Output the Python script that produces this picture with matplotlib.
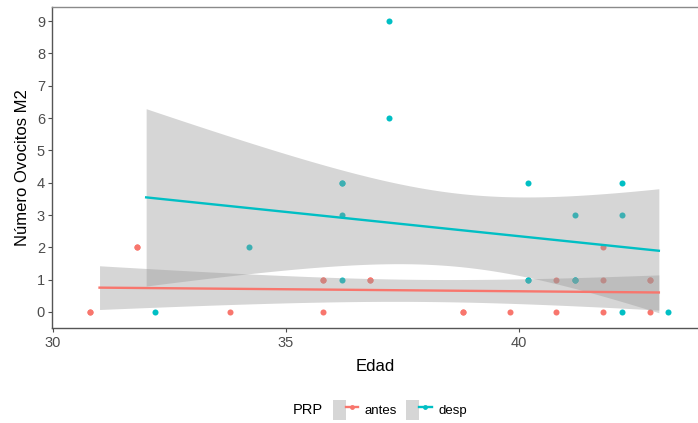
from math import gamma, pi, sqrt

import numpy as np
import matplotlib
matplotlib.use("Agg")
import matplotlib.pyplot as plt
from matplotlib.lines import Line2D
from matplotlib.patches import Patch
from matplotlib.legend_handler import HandlerTuple

plt.rcParams["font.family"] = ["Liberation Sans", "DejaVu Sans"]

# Número de ovocitos M2 por edad, antes y después del PRP
antes_edad = [31, 31, 32, 32, 34, 36, 36, 36, 37, 37, 39, 39, 40, 41, 41,
              42, 42, 42, 43, 43, 43]
antes_ovocitos = [0, 0, 2, 2, 0, 0, 1, 1, 1, 1, 0, 0, 0, 0, 1,
                  0, 1, 2, 0, 1, 1]
desp_edad = [32, 34, 36, 36, 36, 36, 37, 37, 40, 40, 40, 41, 41, 41, 41,
             42, 42, 42, 43]
desp_ovocitos = [0, 2, 4, 4, 3, 1, 9, 6, 4, 1, 1, 3, 1, 1, 1,
                 4, 3, 0, 0]

grupos = ["antes", "desp"]
colores = ["#F8766D", "#00BFC4"]
desplazamiento = [-0.2, 0.2]   # position dodge
x_ticks = [30, 35, 40]
y_ticks = list(range(10))


def t975(df):
    """Two-sided 95% quantile of Student's t."""
    g = np.linspace(0, 8, 80001)
    c = gamma((df + 1) / 2) / (sqrt(df * pi) * gamma(df / 2))
    pdf = c * (1 + g ** 2 / df) ** (-(df + 1) / 2)
    cdf = 0.5 + np.concatenate([[0], np.cumsum((pdf[1:] + pdf[:-1]) / 2 * np.diff(g))])
    return float(np.interp(0.975, cdf, g))


def ajuste_lineal(x, y, npts=100):
    x = np.asarray(x, float)
    y = np.asarray(y, float)
    n = len(x)
    b, a = np.polyfit(x, y, 1)
    m = x.mean()
    sxx = ((x - m) ** 2).sum()
    s = np.sqrt(((y - a - b * x) ** 2).sum() / (n - 2))
    xs = np.linspace(x.min(), x.max(), npts)
    fit = a + b * xs
    h = t975(n - 2) * s * np.sqrt(1 / n + (xs - m) ** 2 / sxx)
    return xs, fit, fit - h, fit + h


W, H = 698, 423
fig = plt.figure(figsize=(W / 100, H / 100), dpi=100)
ax = fig.add_axes([52 / W, 1 - 328 / H, (W - 52) / W, (328 - 7) / H])

datos = [(antes_edad, antes_ovocitos), (desp_edad, desp_ovocitos)]

for (x, y), col, dx in zip(datos, colores, desplazamiento):
    ax.scatter(np.asarray(x) + dx, y, s=19, color=col, linewidths=0, zorder=2)

for (x, y), col in zip(datos, colores):
    xs, fit, lo, hi = ajuste_lineal(x, y)
    ax.fill_between(xs, lo, hi, color="#999999", alpha=0.4, linewidth=0, zorder=3)
    ax.plot(xs, fit, color=col, lw=1.7, zorder=4)

ax.set_xlim(29.98, 43.84)
ax.set_ylim(-0.495, 9.434)
ax.set_xticks(x_ticks)
ax.set_yticks(y_ticks)
ax.tick_params(colors="#4D4D4D", labelsize=10.5, length=3, width=0.8)
ax.tick_params(axis="y", pad=2)
ax.tick_params(axis="x", pad=3)
for lab in ax.get_xticklabels() + ax.get_yticklabels():
    lab.set_color("#4D4D4D")

for side in ["left", "bottom"]:
    ax.spines[side].set_color("#555555")
    ax.spines[side].set_linewidth(1.0)
ax.spines["top"].set_color("#8a8a8a")
ax.spines["top"].set_linewidth(1.0)
ax.spines["right"].set_visible(False)

ax.set_xlabel("Edad", fontsize=12, labelpad=6)
ax.set_ylabel("Número Ovocitos M2", fontsize=12, labelpad=5)

handles = [(Patch(facecolor="#d6d6d6", edgecolor="none"),
            Line2D([], [], color=c, lw=1.7, marker="o", markersize=3.5,
                   markeredgewidth=0))
           for c in colores]
fig.text(293 / W, 1 - 410 / H, "PRP", fontsize=10.5, va="center", ha="left")
fig.legend(handles, grupos, handler_map={tuple: HandlerTuple(ndivide=None, pad=0)},
           loc="center", bbox_to_anchor=(400 / W, 1 - 410 / H), ncol=2,
           frameon=False, fontsize=9.5, handlelength=1.9, handleheight=1.9,
           handletextpad=0.5, columnspacing=0.7, borderpad=0)

fig.savefig("out.png", dpi=100)
